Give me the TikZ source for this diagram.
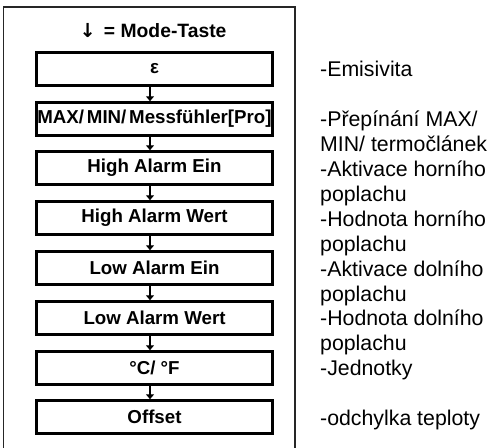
\documentclass[tikz,border=0pt]{standalone}
\usepackage{fontspec}
\setmainfont{Liberation Sans}
\newfontfamily\arrowfont{DejaVu Sans}
\usetikzlibrary{arrows.meta}
\begin{document}
\begin{tikzpicture}[x=1pt,y=-1pt,
  stepbox/.style={draw, line width=2.5pt, minimum width=236pt, minimum height=33pt, inner sep=0pt, font=\fontsize{18.7}{22}\selectfont\bfseries},
  flow/.style={line width=1.8pt, -{Triangle[width=8pt,length=5pt]}},
  note/.style={anchor=base west, inner sep=0pt, font=\fontsize{21.3}{25}\selectfont}]
\useasboundingbox (0,0) rectangle (489,447);
\draw[line width=1.3pt, black!85] (3.5,470) -- (3.5,7) -- (295,7) -- (295,470);
\node[inner sep=0pt, font=\fontsize{19.3}{22}\selectfont\bfseries] (title) at (153,31) {{\arrowfont\bfseries ↓}\hspace{0.15em} = Mode-Taste};
\node[stepbox] (b1) at (154.5,69) {ε};
\node[stepbox] (b2) at (154.5,119) {MAX/\hspace{0.15em}MIN/\hspace{0.15em}Messfühler[Pro]};
\node[stepbox] (b3) at (154.5,168) {High Alarm Ein};
\node[stepbox] (b4) at (154.5,218) {High Alarm Wert};
\node[stepbox] (b5) at (154.5,268) {Low Alarm Ein};
\node[stepbox] (b6) at (154.5,318) {Low Alarm Wert};
\node[stepbox] (b7) at (154.5,368) {°C/ °F};
\node[stepbox] (b8) at (154.5,417) {Offset};
\foreach \a/\b in {b1/b2,b2/b3,b3/b4,b4/b5,b5/b6,b6/b7,b7/b8}
  \draw[flow] ([xshift=-4.5pt]\a.south) -- ([xshift=-4.5pt]\b.north);
\node[note] (r1) at (320,76.6) {-Emisivita};
\node[note] (r2a) at (320,126.6) {-Přepínání MAX/};
\node[note] (r2b) at (320,151.6) {MIN/ termočlánek};
\node[note] (r3a) at (320,176.6) {-Aktivace horního};
\node[note] (r3b) at (320,201.6) {poplachu};
\node[note] (r4a) at (320,226.6) {-Hodnota horního};
\node[note] (r4b) at (320,251.6) {poplachu};
\node[note] (r5a) at (320,276.6) {-Aktivace dolního};
\node[note] (r5b) at (320,301.6) {poplachu};
\node[note] (r6a) at (320,325.6) {-Hodnota dolního};
\node[note] (r6b) at (320,350.6) {poplachu};
\node[note] (r7) at (320,375.6) {-Jednotky};
\node[note] (r8) at (320,425.6) {-odchylka teploty};
\end{tikzpicture}
\end{document}
